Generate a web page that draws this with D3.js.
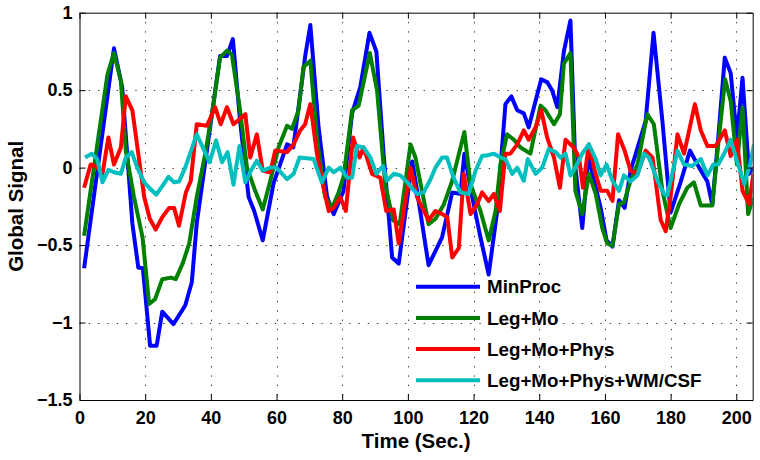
<!DOCTYPE html>
<html>
<head>
<meta charset="utf-8">
<script src="https://cdn.jsdelivr.net/npm/d3@7"></script>
<style>
  html, body { margin: 0; padding: 0; background: #fff; }
  svg { display: block; }
  text { font-family: "Liberation Sans", Arial, Helvetica, sans-serif; font-weight: bold; fill: #000; }
</style>
</head>
<body>
<svg id="chart" width="760" height="460"></svg>
<script>
// ---------------- data (time in seconds, value) ----------------
const seriesNames = ["MinProc", "Leg+Mo", "Leg+Mo+Phys", "Leg+Mo+Phys+WM/CSF"];
const seriesColors = ["#0000ff", "#008000", "#ff0000", "#00bfbf"];

const minProc = [[1.4,-0.65],[10.5,0.77],[13,0.52],[16.1,-0.36],[17.9,-0.645],[19.3,-0.65],[21.5,-1.15],[23.5,-1.15],[25.2,-0.93],[28.6,-1.01],[32.2,-0.89],[34.2,-0.74],[35.7,-0.36],[42.8,0.72],[44.9,0.72],[46.7,0.83],[48.9,0.30],[51.5,-0.19],[53.2,-0.28],[55.8,-0.47],[59.1,-0.1],[63.2,0.15],[65.1,0.13],[68.8,0.73],[70.3,0.92],[72.8,0.26],[75.4,-0.19],[77.4,-0.30],[80.4,-0.15],[83,0.35],[85.5,0.52],[88.3,0.87],[90.4,0.75],[92.6,0.09],[95.2,-0.58],[97.2,-0.62],[101.3,0.04],[102.8,-0.15],[106.3,-0.63],[110.4,-0.45],[113.5,-0.16],[116,-0.17],[117.2,0.09],[119.6,-0.19],[122.1,-0.45],[124.6,-0.69],[127.2,-0.28],[129.7,0.41],[131.5,0.46],[133.3,0.37],[135.3,0.35],[136.8,0.26],[140.6,0.57],[142.5,0.55],[143.9,0.5],[145.5,0.39],[147.5,0.75],[149.5,0.95],[151,0],[153.1,-0.39],[155.1,0.09],[156.2,-0.04],[158.7,-0.26],[160.5,-0.47],[162.3,-0.51],[164.3,-0.21],[166,-0.26],[167.8,-0.02],[172.4,0.30],[174.8,0.87],[177.5,0.30],[180,-0.29],[183.1,-0.09],[185.9,0.11],[188.7,0],[191.2,-0.09],[192.7,-0.24],[194.5,0.19],[196.5,0.71],[198.3,0.61],[200.2,0.19],[201.9,0.58],[203.9,-0.04],[205.3,0.0]];

const legMo = [[1.4,-0.44],[8.5,0.60],[10.5,0.74],[12.6,0.56],[14.1,0.11],[16.6,-0.19],[19.2,-0.45],[21.2,-0.88],[23,-0.85],[25.2,-0.72],[27.8,-0.71],[29.3,-0.72],[31.4,-0.62],[33.4,-0.49],[35.7,-0.19],[38.3,0.09],[40.8,0.41],[42.8,0.71],[44.9,0.755],[46.4,0.73],[48.9,0.37],[51,0],[53.5,-0.15],[55.8,-0.27],[58.1,-0.085],[60.6,0.13],[63.2,0.27],[64.7,0.25],[66.7,0.37],[68.2,0.65],[70.3,0.69],[72.3,0.19],[74.8,-0.19],[76.9,-0.26],[78.9,-0.16],[80.4,-0.06],[83,0.37],[85,0.40],[88.4,0.74],[90.6,0.50],[93.1,-0.11],[95.5,-0.34],[97.5,-0.365],[100.8,0.15],[102.3,0.065],[106.3,-0.365],[108.4,-0.33],[110.9,-0.24],[113.5,-0.085],[117.2,0.23],[119.1,-0.11],[122.1,-0.28],[124.6,-0.47],[126.7,-0.28],[128.2,0.02],[130.2,0.215],[132.3,0.18],[134.3,0.13],[137.3,0.09],[140.4,0.40],[141.9,0.37],[144.5,0.28],[146.3,0.345],[147.5,0.67],[149.5,0.74],[151,-0.15],[153.1,-0.30],[155.1,-0.04],[157.2,-0.17],[159.2,-0.39],[160.7,-0.49],[162.3,-0.505],[164.3,-0.235],[165.8,-0.225],[167.8,-0.085],[169.9,0.02],[172.9,0.345],[174.9,0.28],[177.5,-0.15],[180,-0.39],[182.6,-0.235],[185.1,-0.13],[187.1,-0.095],[189.2,-0.245],[192.7,-0.245],[194.5,0.15],[196.6,0.57],[198.3,0.43],[200.2,0.02],[201.9,0.39],[203.6,-0.30],[205.2,-0.19]];

const legMoPhys = [[1.4,-0.13],[3.4,0.02],[4.9,0.01],[7,-0.04],[8.8,0.195],[10.5,0.02],[12.6,0.13],[14.1,0.46],[16.1,0.37],[19.7,-0.19],[21.4,-0.33],[23.2,-0.40],[25.2,-0.32],[27.3,-0.26],[28.8,-0.26],[30.3,-0.375],[32.4,-0.16],[33.9,-0.085],[35.7,0.28],[38.8,0.27],[41.3,0.39],[43,0.28],[44.9,0.39],[46.9,0.28],[50.5,0.345],[52,0.065],[54,0.215],[55.8,-0.02],[58.1,-0.03],[59.6,0.11],[63.2,0.10],[65.2,0.15],[67.2,0.24],[68.7,0.28],[70.3,0.41],[72.3,0.09],[74.3,-0.13],[75.9,-0.28],[77.4,-0.26],[79.4,-0.19],[81.1,-0.28],[83.3,0.195],[85.3,0.065],[86.5,0.13],[89.1,-0.04],[91.6,-0.065],[93.4,-0.28],[95.7,-0.27],[97.2,-0.49],[100.8,0],[102.8,-0.19],[106.3,-0.34],[108.4,-0.28],[110.5,-0.30],[112,-0.32],[113.5,-0.58],[115.5,-0.52],[117,-0.04],[119.1,-0.30],[121.1,-0.235],[122.6,-0.16],[124.6,-0.215],[126.2,-0.17],[128,-0.28],[129.7,0.09],[131.2,0.09],[133.3,0.15],[135.3,0.24],[136.8,0.18],[138.9,0.26],[140.6,0.37],[142.4,0.195],[144.5,0.065],[146.3,-0.13],[148,0.18],[150.5,0.13],[152.1,0.065],[153.3,-0.13],[155.1,0.15],[156.9,-0.02],[158.7,-0.15],[160.7,-0.15],[162.3,-0.215],[164,0.215],[166,0.11],[167.8,-0.02],[169.9,-0.04],[172.4,0.11],[174.5,0.065],[177,-0.34],[178.5,-0.41],[180,-0.19],[182.1,0.215],[184.1,0.09],[187.4,0.41],[189.2,0.24],[191.2,0.14],[193.7,0.14],[196.5,0.24],[198.3,0.075],[200.2,0.18],[201.9,-0.15],[203.9,-0.235],[205.2,-0.04]];

const legMoPhysWmCsf = [[1.7,0.065],[3.7,0.09],[5.4,0.055],[7,-0.095],[8.8,-0.015],[10.5,-0.03],[12.6,-0.04],[14.1,0.065],[15.9,0.10],[17.6,0],[19.7,-0.095],[21.7,-0.14],[23.4,-0.175],[25.2,-0.12],[27.1,-0.06],[28.8,-0.095],[30.3,-0.09],[32.2,0],[35.7,0.215],[37.8,0.12],[39.6,0.035],[41.6,0.175],[43.4,0.035],[45.1,0.10],[46.9,-0.11],[48.7,0.14],[50.5,-0.095],[52.2,-0.02],[54,0.045],[55.8,-0.02],[58.1,0],[59.9,0],[61.3,-0.03],[63.2,-0.075],[65.2,-0.04],[67,0.065],[71.3,0.055],[73.8,-0.095],[75.9,0],[77.4,-0.03],[79.4,0],[81.5,-0.065],[83,-0.065],[84.5,0.14],[86.5,0.13],[88.6,0.065],[90.4,-0.04],[92.4,0.01],[93.6,-0.085],[95.7,-0.04],[97.7,-0.05],[99.8,-0.095],[102.8,-0.17],[104.8,-0.16],[106.9,-0.075],[108.4,0],[110.4,0.065],[111.9,0.065],[113.9,-0.065],[116,-0.16],[118.5,-0.17],[120.6,-0.02],[122.6,0.075],[124.3,0.08],[126.2,0.09],[128.2,0.065],[129.7,0.055],[131.8,-0.04],[133.3,0],[135.3,-0.085],[136.5,0.055],[138.9,-0.04],[140.9,0],[142.9,0.12],[145,0.10],[146.5,0.065],[148,0.09],[149.5,-0.05],[151,0],[153.1,0.09],[155.1,0.15],[157.2,0.055],[158.7,-0.05],[160.5,0.02],[162.3,-0.085],[164.3,-0.15],[165.8,-0.05],[167.8,-0.09],[169.9,-0.05],[171.9,0.09],[173.4,0.065],[176,-0.085],[178,-0.17],[179,-0.18],[182.1,0.11],[184.1,0.02],[186.6,0.01],[189.2,0.055],[191.2,-0.05],[193,0.02],[194.5,0.02],[196.3,0.09],[198.3,0.18],[200.2,0.045],[202.4,-0.105],[204.2,0.02],[205.4,0.15]];

const xTicks = [0, 20, 40, 60, 80, 100, 120, 140, 160, 180, 200];
const yTicks = [-1.5, -1, -0.5, 0, 0.5, 1];
const xLabel = "Time (Sec.)";
const yLabel = "Global Signal";

// ---------------- layout ----------------
const svg = d3.select("#chart");
const L = 79.5, R = 752.7, T = 12.7, B = 400;
const x = d3.scaleLinear().domain([0, 205]).range([L, R]);
const y = d3.scaleLinear().domain([-1.5, 1]).range([B, T]);
const fmt = d => (d < 0 ? "\u2212" + Math.abs(d) : String(d));

// grid
const grid = svg.append("g").attr("stroke", "#333").attr("stroke-width", 1)
  .attr("stroke-dasharray", "1.3,8");
grid.selectAll("line.vx").data(xTicks.filter(t => t > 0 && t < 205)).join("line")
  .attr("x1", d => Math.round(x(d)) + 0.5).attr("x2", d => Math.round(x(d)) + 0.5)
  .attr("y1", T).attr("y2", B);
grid.selectAll("line.hy").data(yTicks.filter(t => t > -1.5 && t < 1)).join("line")
  .attr("y1", d => Math.round(y(d)) + 0.5).attr("y2", d => Math.round(y(d)) + 0.5)
  .attr("x1", L).attr("x2", R);

// lines
svg.append("clipPath").attr("id", "clip").append("rect")
  .attr("x", L).attr("y", T).attr("width", R - L).attr("height", B - T);
const line = d3.line().x(d => x(d[0])).y(d => y(d[1]));
const allSeries = [minProc, legMo, legMoPhys, legMoPhysWmCsf];
svg.append("g").attr("clip-path", "url(#clip)")
  .selectAll("path").data(allSeries).join("path")
  .attr("d", line)
  .attr("fill", "none")
  .attr("stroke", (d, i) => seriesColors[i])
  .attr("stroke-width", 4)
  .attr("stroke-linejoin", "round");

// axes
const axFont = g => g.selectAll("text").style("font-size", "18px").style("font-weight", "bold")
  .style("font-family", '"Liberation Sans", Arial, sans-serif').attr("fill", "#000");
const bottom = svg.append("g").attr("transform", `translate(0,${B})`)
  .call(d3.axisBottom(x).tickValues(xTicks).tickSizeInner(-6).tickSizeOuter(0).tickPadding(11.5));
bottom.call(axFont);
svg.append("g").attr("transform", `translate(0,${T})`)
  .call(d3.axisTop(x).tickValues(xTicks).tickSizeInner(-6).tickSizeOuter(0).tickFormat(""));
const left = svg.append("g").attr("transform", `translate(${L},0)`)
  .call(d3.axisLeft(y).tickValues(yTicks).tickSizeInner(-6).tickSizeOuter(0).tickPadding(7).tickFormat(fmt));
left.call(axFont);
svg.append("g").attr("transform", `translate(${R},0)`)
  .call(d3.axisRight(y).tickValues(yTicks).tickSizeInner(-6).tickSizeOuter(0).tickFormat(""));
svg.selectAll(".domain").attr("stroke", "#000").attr("stroke-width", 1);
svg.selectAll(".tick line").attr("stroke", "#000");

// axis labels
svg.append("text").attr("x", (L + R) / 2).attr("y", 448).attr("text-anchor", "middle")
  .style("font-size", "20.5px").text(xLabel);
svg.append("text").attr("transform", `translate(23,${(T + B) / 2}) rotate(-90)`)
  .attr("text-anchor", "middle").style("font-size", "20.5px").text(yLabel);

// legend
const leg = svg.append("g");
const legY0 = 286.7, legDy = 31.2;
seriesNames.forEach((name, i) => {
  const yy = legY0 + i * legDy;
  leg.append("line").attr("x1", 416).attr("x2", 480).attr("y1", yy).attr("y2", yy)
    .attr("stroke", seriesColors[i]).attr("stroke-width", 4);
  leg.append("text").attr("x", 487).attr("y", yy).attr("dy", "0.36em")
    .style("font-size", "18.8px").text(name);
});
</script>
</body>
</html>
